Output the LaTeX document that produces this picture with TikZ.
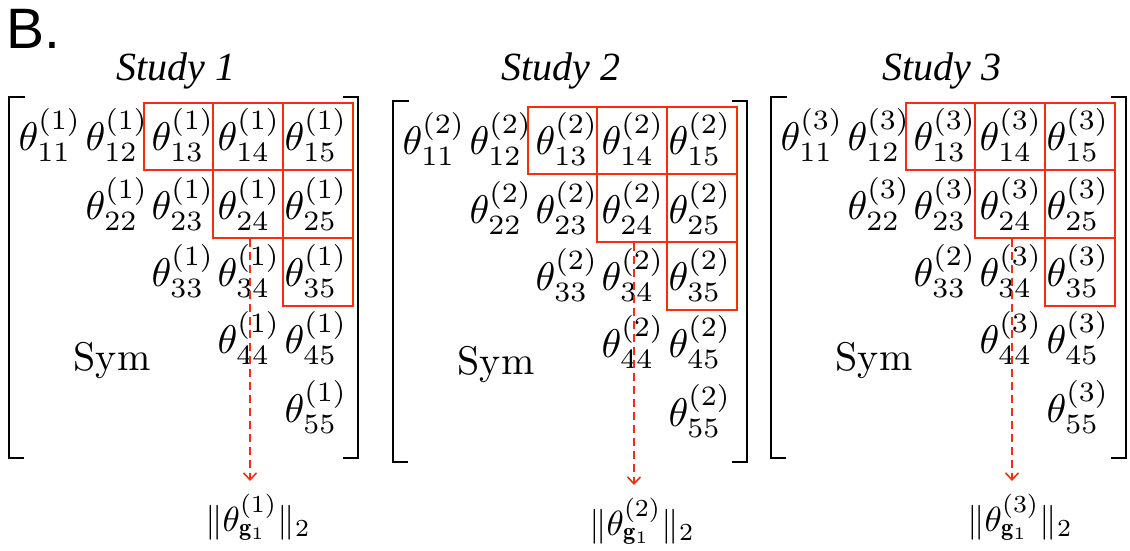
\documentclass[tikz,border=0pt]{standalone}
\usepackage{fontspec}
\usetikzlibrary{arrows.meta}
\newfontfamily\labelsans{Liberation Sans}
\newfontfamily\titleserif{Liberation Serif}
\definecolor{hired}{RGB}{250,45,10}

\tikzset{
  ent/.style={inner sep=0pt, font=\normalsize, scale=4},
  normlab/.style={inner sep=0pt, font=\normalsize, scale=3.5},
  studytitle/.style={inner sep=0pt, font=\titleserif\itshape\fontsize{40}{48}\selectfont},
  cellbox/.style={draw=hired, line width=1.8pt, minimum width=69.5pt, minimum height=67.7pt, inner sep=0pt},
  brk/.style={draw=black, line width=2pt},
  grouparrow/.style={draw=hired, line width=1.6pt, dash pattern=on 8pt off 5pt,
    -{Straight Barb[length=7pt,width=13pt,line width=1.6pt]}},
}

% one study: #1 number, #2/#3 shift, #4 superscript of entry 33,
% #5 x of the right bracket, #6 title x
\newcommand\studyblock[6]{%
  \node[studytitle, anchor=base] (t#1) at (#6,80) {Study #1};
  \begin{scope}[shift={(#2,#3)}, name prefix=s#1-]
    % brackets
    \draw[brk] (25,97) -- (9,97) -- (9,458) -- (24,458);
    \draw[brk] ({#5-15},97) -- (#5,97) -- (#5,458) -- ({#5-15},458);
    % highlighted group g1
    \node[cellbox] (b13) at (178.5,136.5) {};
    \node[cellbox] (b14) at (248,136.5) {};
    \node[cellbox] (b15) at (318,136.5) {};
    \node[cellbox] (b24) at (248,204.2) {};
    \node[cellbox] (b25) at (318,204.2) {};
    \node[cellbox] (b35) at (318,271.9) {};
    % entries
    \node[ent] (e11) at (50,135) {$\theta^{(#1)}_{11}$};
    \node[ent] (e12) at (117,135) {$\theta^{(#1)}_{12}$};
    \node[ent] (e13) at (183,135) {$\theta^{(#1)}_{13}$};
    \node[ent] (e14) at (249,135) {$\theta^{(#1)}_{14}$};
    \node[ent] (e15) at (316,135) {$\theta^{(#1)}_{15}$};
    \node[ent] (e22) at (117,204) {$\theta^{(#1)}_{22}$};
    \node[ent] (e23) at (183,204) {$\theta^{(#1)}_{23}$};
    \node[ent] (e24) at (249,204) {$\theta^{(#1)}_{24}$};
    \node[ent] (e25) at (316,204) {$\theta^{(#1)}_{25}$};
    \node[ent] (e33) at (183,271) {$\theta^{(#4)}_{33}$};
    \node[ent] (e34) at (249,271) {$\theta^{(#1)}_{34}$};
    \node[ent] (e35) at (316,271) {$\theta^{(#1)}_{35}$};
    \node[ent] (e44) at (249,338) {$\theta^{(#1)}_{44}$};
    \node[ent] (e45) at (316,338) {$\theta^{(#1)}_{45}$};
    \node[ent] (e55) at (316,407) {$\theta^{(#1)}_{55}$};
    \node[ent, anchor=base] (sym) at (112,370) {Sym};
    % group norm
    \node[normlab, anchor=base] (norm) at (258,531) {$\|\theta^{(#1)}_{\mathbf{g}_1}\|_2$};
    \coordinate (tip) at (250,481);
    \draw[grouparrow] (b24.south -| tip) -- (tip);
  \end{scope}}

\begin{document}
\begin{tikzpicture}[x=1pt, y=-1pt]
  \useasboundingbox (0,0) rectangle (1130,550);
  \node[inner sep=0pt, anchor=base west, font=\labelsans\fontsize{57}{64}\selectfont] (panel) at (6,48) {B.};
  \studyblock{1}{0}{0}{1}{358}{176}
  \studyblock{2}{384}{4}{2}{363}{561}
  \studyblock{3}{762}{0}{2}{364}{942}
\end{tikzpicture}
\end{document}
